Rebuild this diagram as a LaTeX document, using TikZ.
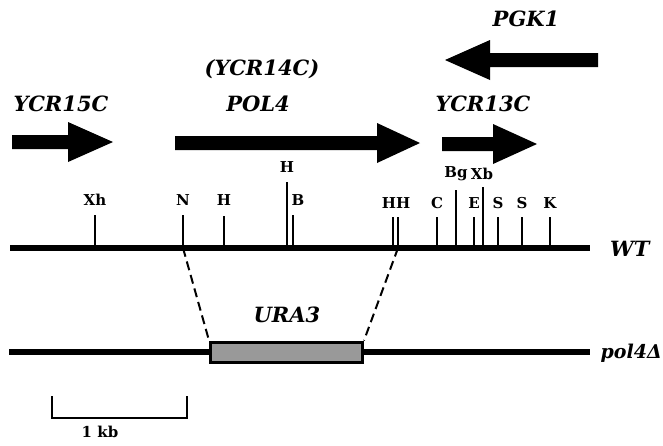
\documentclass[tikz,border=0pt]{standalone}
\usepackage{fontspec}
\setmainfont{DejaVu Serif}
\begin{document}
\begin{tikzpicture}[x=1pt,y=-1pt,
  gene/.style={font=\fontsize{21}{23}\selectfont\bfseries\itshape, inner sep=0pt},
  site/.style={font=\fontsize{15}{16}\selectfont\bfseries, inner sep=0pt},
  tick/.style={line width=2.6pt},
  dna/.style={line width=6pt},
  garrow/.style={fill=black, draw=none}]
\useasboundingbox (0,0) rectangle (663,445);

% gene arrows
\fill[garrow] (12,135) -- (68,135) -- (68,122) -- (113,142) -- (68,162) -- (68,149) -- (12,149) -- cycle;
\fill[garrow] (175,136) -- (377,136) -- (377,123) -- (420,143) -- (377,163) -- (377,150) -- (175,150) -- cycle;
\fill[garrow] (442,137) -- (493,137) -- (493,124) -- (537,144) -- (493,164) -- (493,151) -- (442,151) -- cycle;
\fill[garrow] (598,53) -- (490,53) -- (490,40) -- (445,60) -- (490,80) -- (490,67) -- (598,67) -- cycle;

% gene labels
\node[gene] (pgk) at (526,19) {PGK1};
\node[gene] (ycr15) at (61,104) {YCR15C};
\node[gene] (ycr14) at (262,69) {(YCR14C)};
\node[gene] (pol4) at (258,104) {POL4};
\node[gene] (ycr13) at (483,104) {YCR13C};

% WT line
\coordinate (wtL) at (10,248);
\coordinate (wtR) at (590,248);
\draw[dna] (wtL) -- (wtR);
\node[gene, anchor=west] (wt) at (610,249) {WT};

% restriction sites
\foreach \nm/\x/\top in {xh/95/215, n/183/215, h1/224/216,
   h2/287/182, b/293/215, h3/393/217, h4/398/217,
   c/437/217, bg/456/190, e/474/217, xb/483/187,
   s1/498/217, s2/522/217, k/550/217} {
  \coordinate (\nm b) at (\x,248);
  \coordinate (\nm t) at (\x,\top);
  \draw[tick] (\nm b) -- (\nm t);
}
\node[site] (lxh) at (95,200) {Xh};
\node[site] (ln) at (183,200) {N};
\node[site] (lh1) at (224,200) {H};
\node[site] (lh2) at (287,167) {H};
\node[site] (lb) at (298,200) {B};
\node[site] (lhh) at (396,203) {HH};
\node[site] (lc) at (437,203) {C};
\node[site] (lbg) at (456,174) {Bg};
\node[site] (lxb) at (482,174) {Xb};
\node[site] (le) at (474,203) {E};
\node[site] (ls1) at (498,203) {S};
\node[site] (ls2) at (522,203) {S};
\node[site] (lk) at (550,203) {K};

% pol4 delta line
\coordinate (pL) at (9,352);
\coordinate (pR) at (590,352);
\draw[dna] (pL) -- (pR);
\node[gene, font=\fontsize{19}{21}\selectfont\bfseries\itshape, anchor=east] (pol4d) at (662,353) {pol4Δ};

% URA3 box
\node[draw=black, line width=3pt, fill=black!40, minimum width=152pt, minimum height=20pt, inner sep=0pt] (ura) at (286.5,352) {};
\node[gene] (uralab) at (287,315) {URA3};

% dashed connectors
\draw[line width=2pt, dash pattern=on 9pt off 5pt] (nb) -- (ura.north west);
\draw[line width=2pt, dash pattern=on 9pt off 5pt] (h4b) -- (ura.north east);

% scale bar
\coordinate (sL) at (52,396);
\coordinate (sR) at (187,396);
\draw[line width=2pt] (sL) -- (52,418) -- (187,418) -- (sR);
\node[site] (kb) at (100,432) {1 kb};
\end{tikzpicture}
\end{document}
